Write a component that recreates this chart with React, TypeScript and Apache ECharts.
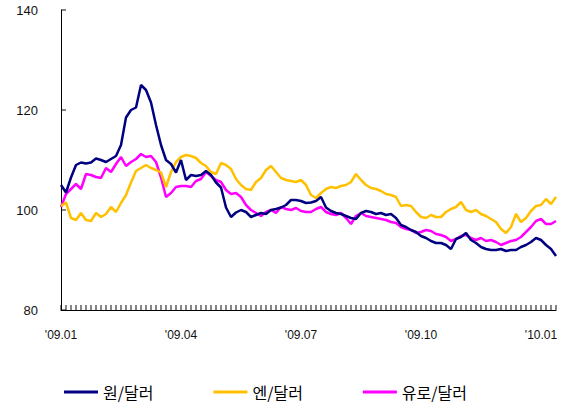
import React, { useEffect, useRef } from "react";
import * as echarts from "echarts";

const tickLabels = ["'09.01", "'09.04", "'09.07", "'09.10", "'10.01"];
const pointsPerQuarter = 24;
const pointCount = 100;
const yTickValues = [80, 100, 120, 140];

const krwUsd = [
  105, 103.5, 106.5, 109, 109.5, 109.3, 109.5, 110.3, 110, 109.6,
  110.2, 110.8, 113, 118.5, 120, 120.5, 125, 124, 121.5, 117,
  113, 110, 109.2, 107.5, 110, 106, 107, 106.8, 107, 107.8,
  107, 105.5, 104.5, 100.5, 98.6, 99.5, 100, 99.6, 98.6, 99,
  99.4, 99.2, 100, 100.2, 100.5, 101, 102, 102, 101.8, 101.4,
  101.5, 101.8, 102.6, 100.5, 99.8, 99.4, 99.2, 98.8, 98.4, 98.2,
  99.4, 99.8, 99.6, 99.2, 99.4, 99, 99.2, 98.4, 97, 96.6,
  96, 95.6, 94.8, 94.4, 93.8, 93.4, 93.4, 93, 92.2, 94.2,
  94.6, 95.4, 94, 93.4, 92.6, 92.2, 92, 92, 92.2, 91.8,
  92, 92, 92.6, 93, 93.6, 94.4, 94, 93, 92.2, 90.8,
];

const jpyUsd = [
  100.8, 101.5, 98.4, 98, 99.4, 98, 97.8, 99.4, 98.6, 99.2,
  100.6, 99.6, 101.4, 103, 105.5, 107.8, 108.4, 109, 108.4, 108,
  107.5, 104.6, 107.6, 109.6, 110.6, 111, 110.8, 110.4, 109.4, 108.8,
  107.6, 107.2, 109.4, 109, 108.2, 106.2, 105, 104.2, 104, 105.6,
  106.4, 108, 108.8, 107.6, 106.4, 106, 105.8, 105.6, 106, 105,
  103, 102.4, 103.4, 104.2, 104.6, 104.4, 104.8, 105, 105.6, 107.2,
  106, 105, 104.4, 104.2, 103.8, 103.2, 103, 102.6, 100.8, 101,
  100.8, 99.6, 98.6, 98.4, 99, 98.6, 98.6, 99.6, 100.2, 100.6,
  101.6, 100, 99.6, 100, 99.2, 98.8, 98.2, 97.6, 96.2, 95.4,
  96.6, 99.2, 97.6, 98.4, 99.8, 100.8, 101, 102.2, 101.2, 102.6,
];

const eurUsd = [
  100.6, 103.2, 104.2, 105.2, 104.2, 107.2, 107, 106.6, 106.4, 108.4,
  107.6, 109.2, 110.6, 108.8, 109.6, 110.2, 111.2, 110.6, 110.8, 109.6,
  106.5, 102.6, 103.4, 104.6, 104.8, 104.8, 104.6, 105.8, 106.2, 107.6,
  106.8, 106, 105.6, 104, 103.2, 103.4, 102.6, 101, 100, 99.4,
  98.8, 99.6, 100, 99.4, 100.6, 100.2, 100, 100.4, 99.8, 99.6,
  99.6, 100.2, 100.6, 99.6, 99.2, 99, 99.4, 98.4, 97.2, 98.8,
  99.4, 98.8, 98.6, 98.4, 98.2, 98, 97.6, 97.4, 96.6, 96.2,
  96, 95.4, 95.6, 96, 95.8, 95.2, 95, 94.6, 93.8, 94.2,
  94.8, 95, 94.4, 94, 94.4, 93.8, 94, 93.6, 93, 93.4,
  93.8, 94, 94.6, 95.6, 96.6, 97.8, 98.2, 97.2, 97.2, 97.8,
];

const seriesNames = ["원/달러", "엔/달러", "유로/달러"];
const seriesColors = ["#000080", "#FFC000", "#FF00FF"];

const categories: string[] = [];
for (let i = 0; i < pointCount; i++) {
  const q = i / pointsPerQuarter;
  categories.push(i % pointsPerQuarter === 0 && tickLabels[q] ? tickLabels[q] : "p" + i);
}

export default function App() {
  const ref = useRef<HTMLDivElement>(null);
  useEffect(() => {
    if (!ref.current) return;
    const chart = echarts.init(ref.current, null, { renderer: "svg" });
    const data = [krwUsd, jpyUsd, eurUsd];
    const lineSeries = seriesNames.map((name, k) => ({
      name,
      type: "line",
      data: data[k],
      symbol: "none",
      color: seriesColors[k],
      lineStyle: { color: seriesColors[k], width: 2.5 },
      z: 5 - k,
    }));
    chart.setOption({
      animation: false,
      backgroundColor: "#ffffff",
      grid: { left: 61, right: 15, top: 10, bottom: 93 },
      legend: {
        left: 59,
        top: 379,
        icon: "rect",
        itemWidth: 34,
        itemHeight: 3,
        itemGap: 60,
        textStyle: { fontSize: 16, color: "#000", fontFamily: "Noto Sans CJK KR" },
        data: seriesNames,
      },
      xAxis: {
        type: "category",
        data: categories,
        boundaryGap: false,
        axisLine: { show: true, lineStyle: { color: "#000", width: 1 } },
        axisTick: { show: false },
        axisLabel: {
          show: true,
          interval: (index: number) => index % pointsPerQuarter === 0,
          formatter: (v: string) => (v.startsWith("p") ? "" : v),
          margin: 19,
          fontSize: 12,
          color: "#111",
          fontFamily: "Liberation Sans",
        },
        splitLine: { show: false },
      },
      yAxis: {
        type: "value",
        min: 80,
        max: 140,
        interval: 20,
        axisLine: { show: true, lineStyle: { color: "#000", width: 1 } },
        axisTick: { show: false },
        axisLabel: { margin: 23, fontSize: 13, color: "#111", fontFamily: "Liberation Sans" },
        splitLine: { show: false },
      },
      series: [
        ...lineSeries,
        {
          name: "xTicks",
          type: "scatter",
          silent: true,
          clip: false,
          data: categories.map((c) => [c, 80]),
          symbol: "rect",
          symbolSize: [1.2, 5],
          symbolOffset: [0, -2.5],
          itemStyle: { color: "#000" },
          z: 1,
        },
        {
          name: "yTicks",
          type: "scatter",
          silent: true,
          clip: false,
          data: yTickValues.map((v) => [categories[0], v]),
          symbol: "rect",
          symbolSize: [5, 1.2],
          symbolOffset: [2.5, 0],
          itemStyle: { color: "#000" },
          z: 1,
        },
      ],
    });
    return () => chart.dispose();
  }, []);
  return (
    <div
      ref={ref}
      style={{ position: "fixed", left: 0, top: 0, width: 571, height: 403 }}
    />
  );
}
